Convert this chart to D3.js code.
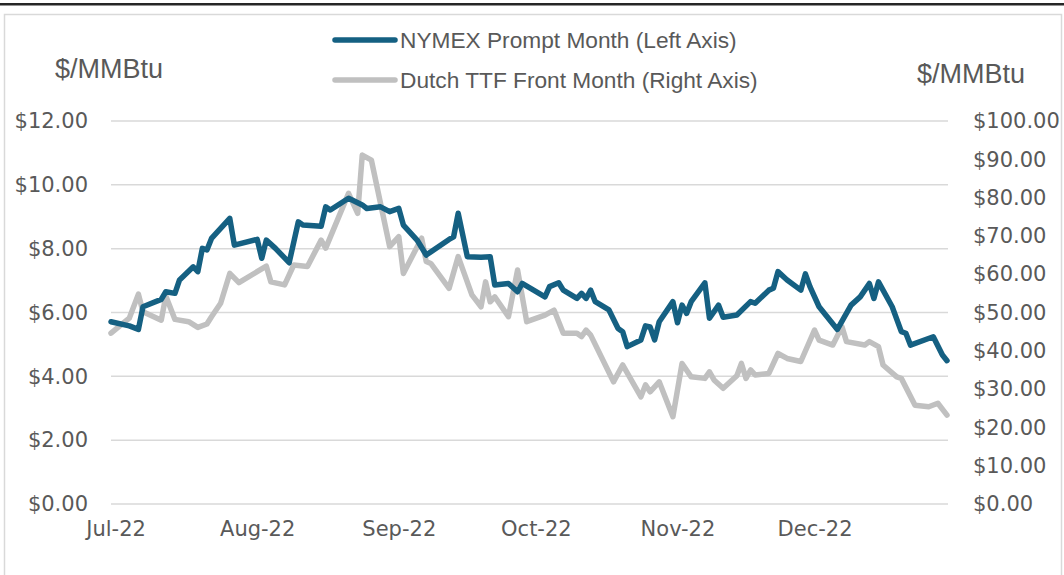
<!DOCTYPE html>
<html>
<head>
<meta charset="utf-8">
<script src="https://cdn.jsdelivr.net/npm/d3@7"></script>
<style>
  body { margin: 0; background: #fff; }
  svg { display: block; }
  .tick text { font-family: "DejaVu Sans", Verdana, sans-serif; }
</style>
</head>
<body>
<script>
// NYMEX prompt month, $/MMBtu (left axis)
var nymexDates = ["2022-06-30","2022-07-04","2022-07-06","2022-07-07","2022-07-11","2022-07-12","2022-07-14","2022-07-15",
  "2022-07-18","2022-07-19","2022-07-20","2022-07-21","2022-07-22","2022-07-26","2022-07-27","2022-08-01","2022-08-02",
  "2022-08-03","2022-08-05","2022-08-08","2022-08-10","2022-08-11","2022-08-15","2022-08-16","2022-08-17","2022-08-21",
  "2022-08-24","2022-08-25","2022-08-28","2022-08-30","2022-09-01","2022-09-02","2022-09-05","2022-09-07","2022-09-12",
  "2022-09-13","2022-09-14","2022-09-16","2022-09-19","2022-09-21","2022-09-22","2022-09-25","2022-09-27","2022-09-28",
  "2022-10-03","2022-10-04","2022-10-06","2022-10-07","2022-10-10","2022-10-11","2022-10-12","2022-10-13","2022-10-14",
  "2022-10-17","2022-10-19","2022-10-20","2022-10-21","2022-10-24","2022-10-25","2022-10-26","2022-10-27","2022-10-28",
  "2022-10-31","2022-11-01","2022-11-02","2022-11-03","2022-11-04","2022-11-07","2022-11-08","2022-11-10","2022-11-11",
  "2022-11-14","2022-11-17","2022-11-18","2022-11-21","2022-11-22","2022-11-23","2022-11-25","2022-11-28","2022-11-29",
  "2022-11-30","2022-12-02","2022-12-06","2022-12-09","2022-12-11","2022-12-13","2022-12-14","2022-12-15","2022-12-18",
  "2022-12-20","2022-12-21","2022-12-22","2022-12-27","2022-12-29","2022-12-30"];
var nymexValues = [5.71,5.58,5.47,6.18,6.41,6.65,6.60,7.02,
  7.43,7.28,8.01,7.96,8.32,8.95,8.11,8.29,7.70,
  8.27,8.01,7.56,8.84,8.74,8.70,9.31,9.21,9.58,
  9.37,9.26,9.31,9.16,9.26,8.74,8.27,7.80,8.29,
  8.37,9.11,7.75,7.73,7.75,6.86,6.91,6.65,6.91,
  6.49,6.81,6.93,6.70,6.44,6.60,6.44,6.70,6.34,
  6.08,5.50,5.40,4.93,5.14,5.58,5.55,5.14,5.71,
  6.34,5.68,6.23,5.97,6.34,6.93,5.82,6.23,5.85,
  5.92,6.34,6.29,6.70,6.76,7.28,7.02,6.70,7.21,
  6.81,6.18,5.47,6.23,6.49,6.91,6.44,6.96,6.18,
  5.40,5.35,4.98,5.24,4.67,4.49];

// Dutch TTF front month, $/MMBtu (right axis)
var ttfDates = ["2022-06-30","2022-07-04","2022-07-06","2022-07-07","2022-07-11","2022-07-12","2022-07-14","2022-07-17",
  "2022-07-19","2022-07-21","2022-07-22","2022-07-24","2022-07-26","2022-07-28","2022-08-03","2022-08-04","2022-08-07",
  "2022-08-09","2022-08-12","2022-08-15","2022-08-16","2022-08-21","2022-08-23","2022-08-24","2022-08-26","2022-08-30",
  "2022-09-01","2022-09-02","2022-09-06","2022-09-07","2022-09-08","2022-09-12","2022-09-14","2022-09-17","2022-09-19",
  "2022-09-20","2022-09-21","2022-09-22","2022-09-25","2022-09-27","2022-09-29","2022-10-03","2022-10-05","2022-10-07",
  "2022-10-10","2022-10-11","2022-10-12","2022-10-13","2022-10-18","2022-10-20","2022-10-24","2022-10-25","2022-10-26",
  "2022-10-28","2022-10-31","2022-11-02","2022-11-04","2022-11-07","2022-11-08","2022-11-09","2022-11-11","2022-11-14",
  "2022-11-15","2022-11-16","2022-11-17","2022-11-18","2022-11-21","2022-11-23","2022-11-25","2022-11-28","2022-12-01",
  "2022-12-02","2022-12-05","2022-12-07","2022-12-08","2022-12-12","2022-12-13","2022-12-15","2022-12-16","2022-12-19",
  "2022-12-20","2022-12-23","2022-12-26","2022-12-28","2022-12-30"];
var ttfValues = [44.6,48.5,54.8,50.2,48.0,54.3,48.2,47.6,
  46.1,47.0,48.9,52.4,60.2,57.8,62.1,58.0,57.2,
  62.4,62.0,68.9,66.8,81.1,75.9,91.1,89.8,67.2,
  69.8,60.2,69.4,63.3,62.8,56.3,64.6,54.6,51.5,
  58.0,52.8,54.1,48.9,61.1,47.6,49.3,50.6,44.6,
  44.6,43.7,45.4,44.1,31.9,36.3,28.0,31.1,29.3,
  31.9,22.8,36.7,33.2,32.8,34.5,32.4,30.2,33.5,
  36.7,32.8,35.0,33.7,34.1,39.3,38.0,37.2,45.4,
  42.8,41.5,46.3,42.4,41.5,42.4,41.1,36.3,33.2,
  32.8,25.8,25.4,26.3,23.2];

var leftTicks = [0, 2, 4, 6, 8, 10, 12];
var rightTicks = [0, 10, 20, 30, 40, 50, 60, 70, 80, 90, 100];
var monthTicks = ["2022-07-01","2022-08-01","2022-09-01","2022-10-01","2022-11-01","2022-12-01"];
var seriesNames = ["NYMEX Prompt Month (Left Axis)", "Dutch TTF Front Month (Right Axis)"];

var width = 1064, height = 575;
var blue = "#156082", grey = "#c0c0c0", gridColor = "#d9d9d9", textColor = "#595959";

var parse = d3.timeParse("%Y-%m-%d");

var svg = d3.select("body").append("svg")
    .attr("width", width)
    .attr("height", height);

// top rule and chart frame
svg.append("rect").attr("x", 0).attr("y", 3).attr("width", width).attr("height", 2.5).attr("fill", "#262626");
svg.append("rect")
    .attr("x", 4.5).attr("y", 14.5).attr("width", 1057).attr("height", 575)
    .attr("fill", "none").attr("stroke", gridColor).attr("stroke-width", 1.5);

var x = d3.scaleTime()
    .domain([parse("2022-06-30"), parse("2022-12-30")])
    .range([111, 947]);
var yLeft = d3.scaleLinear().domain([0, 12]).range([504, 121]);
var yRight = d3.scaleLinear().domain([0, 100]).range([504, 121]);

// gridlines
svg.append("g")
    .selectAll("line")
    .data(leftTicks)
    .enter()
    .append("line")
    .attr("x1", 111).attr("x2", 948)
    .attr("y1", function(d) { return yLeft(d); })
    .attr("y2", function(d) { return yLeft(d); })
    .attr("stroke", gridColor)
    .attr("stroke-width", 1.5);

// axes
var leftAxis = svg.append("g")
    .attr("transform", "translate(88,0)")
    .call(d3.axisLeft(yLeft).tickValues(leftTicks).tickSize(0).tickPadding(0)
        .tickFormat(function(d) { return "$" + d3.format(".2f")(d); }));
var rightAxis = svg.append("g")
    .attr("transform", "translate(973,0)")
    .call(d3.axisRight(yRight).tickValues(rightTicks).tickSize(0).tickPadding(0)
        .tickFormat(function(d) { return "$" + d3.format(".2f")(d); }));
var bottomAxis = svg.append("g")
    .attr("transform", "translate(0,521)")
    .call(d3.axisBottom(x).tickValues(monthTicks.map(parse)).tickSize(0).tickPadding(0)
        .tickFormat(d3.timeFormat("%b-%y")));

[leftAxis, rightAxis, bottomAxis].forEach(function(a) {
    a.select(".domain").remove();
    a.selectAll("text").attr("fill", textColor).style("font-size", "21px");
});

// series lines
function series(dates, values) {
    return dates.map(function(d, i) { return {date: parse(d), value: values[i]}; });
}

svg.append("path")
    .datum(series(ttfDates, ttfValues))
    .attr("fill", "none")
    .attr("stroke", grey)
    .attr("stroke-width", 5.5)
    .attr("stroke-linejoin", "round")
    .attr("stroke-linecap", "round")
    .attr("d", d3.line().x(function(d) { return x(d.date); }).y(function(d) { return yRight(d.value); }));

svg.append("path")
    .datum(series(nymexDates, nymexValues))
    .attr("fill", "none")
    .attr("stroke", blue)
    .attr("stroke-width", 5.5)
    .attr("stroke-linejoin", "round")
    .attr("stroke-linecap", "round")
    .attr("d", d3.line().x(function(d) { return x(d.date); }).y(function(d) { return yLeft(d.value); }));

// axis titles
svg.append("text").attr("x", 55).attr("y", 78)
    .attr("fill", textColor).style("font-family", "'Liberation Sans', Arial, sans-serif").style("font-size", "27px")
    .text("$/MMBtu");
svg.append("text").attr("x", 917).attr("y", 83)
    .attr("fill", textColor).style("font-family", "'Liberation Sans', Arial, sans-serif").style("font-size", "27px")
    .text("$/MMBtu");

// legend
var legend = svg.append("g").selectAll("g")
    .data(seriesNames)
    .enter()
    .append("g")
    .attr("transform", function(d, i) { return "translate(335," + (40 + i * 40) + ")"; });
legend.append("line")
    .attr("x1", 0).attr("x2", 60)
    .attr("stroke", function(d, i) { return i === 0 ? blue : grey; })
    .attr("stroke-width", 5.5)
    .attr("stroke-linecap", "round");
legend.append("text")
    .attr("x", 65).attr("y", 8)
    .attr("fill", textColor)
    .style("font-family", "'Liberation Sans', Arial, sans-serif")
    .style("font-size", "22.7px")
    .text(function(d) { return d; });
</script>
</body>
</html>
